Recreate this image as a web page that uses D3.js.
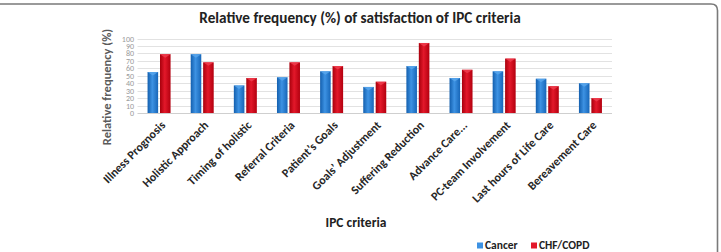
<!DOCTYPE html>
<html>
<head>
<meta charset="utf-8">
<script src="https://cdn.jsdelivr.net/npm/d3@7"></script>
<style>
  body { margin: 0; background: #fff; }
  svg { display: block; }
</style>
</head>
<body>
<script>
const categories = ['Illness Prognosis', 'Holistic Approach', 'Timing of holistic', 'Referral Criteria',
  'Patient\u2019s Goals', 'Goals\u2019 Adjustment', 'Suffering Reduction', 'Advance Care...',
  'PC-team Involvement', 'Last hours of Life Care', 'Bereavement Care']
const series = ['Cancer', 'CHF/COPD']
const cancer = [55, 79, 37, 48, 56, 35, 63, 47, 56, 46, 40]
const chfCopd = [79, 68, 47, 68, 63, 42, 94, 58, 73, 36, 20]
const yTicks = [0, 10, 20, 30, 40, 50, 60, 70, 80, 90, 100]

const width = 721
const height = 252
const plot = { left: 137.5, right: 612, top: 38.5, bottom: 113 }
const font = 'Carlito, Calibri, "Liberation Sans Narrow", "Open Sans", sans-serif'

const svg = d3.select('body').append('svg')
  .attr('width', width)
  .attr('height', height)

// gradients for the bevelled bars
const defs = svg.append('defs')
const colors = {
  'Cancer': ['#135fae', '#3d92e3', '#1766b8'],
  'CHF/COPD': ['#a8000c', '#e3182a', '#b3000f']
}
series.forEach((s, i) => {
  const g = defs.append('linearGradient')
    .attr('id', 'grad' + i)
    .attr('x1', 0).attr('x2', 1).attr('y1', 0).attr('y2', 0)
  g.append('stop').attr('offset', '0%').attr('stop-color', colors[s][0])
  g.append('stop').attr('offset', '45%').attr('stop-color', colors[s][1])
  g.append('stop').attr('offset', '100%').attr('stop-color', colors[s][2])
})

// frame
svg.append('path')
  .attr('d', `M0,4 H711 Q717.5,4 717.5,10.5 V252`)
  .attr('fill', 'none')
  .attr('stroke', '#7a7a7a')
  .attr('stroke-width', 1.6)

// title
svg.append('text')
  .attr('x', 360)
  .attr('y', 23)
  .attr('text-anchor', 'middle')
  .style('font-family', font)
  .style('font-weight', 'bold')
  .style('font-size', '15.2px')
  .attr('fill', '#222')
  .text('Relative frequency (%) of satisfaction of IPC criteria')

const x = d3.scaleBand()
  .domain(categories)
  .range([plot.left, plot.right])

const xSub = d3.scaleBand()
  .domain(series)
  .range([-11.5, 11.5])
  .paddingInner(0.15)

const y = d3.scaleLinear()
  .domain([0, 100])
  .range([plot.bottom, plot.top])

// grid
svg.append('g')
  .selectAll('line')
  .data(yTicks)
  .enter()
  .append('line')
  .attr('x1', plot.left)
  .attr('x2', plot.right)
  .attr('y1', d => Math.round(y(d)) + 0.5)
  .attr('y2', d => Math.round(y(d)) + 0.5)
  .attr('stroke', d => d === 0 ? '#cfcfcf' : '#e2e2e2')
  .attr('stroke-width', 1)

// y axis labels
const yAxis = d3.axisLeft(y)
  .tickValues(yTicks)
  .tickSize(0)
  .tickPadding(0)

const yg = svg.append('g')
  .attr('transform', `translate(134, 0)`)
  .call(yAxis)
yg.select('.domain').remove()
yg.selectAll('text')
  .style('font-family', font)
  .style('font-size', '8px')
  .attr('fill', '#9a9a9a')

// y axis title
svg.append('text')
  .attr('transform', `translate(111, 87) rotate(-90)`)
  .attr('text-anchor', 'middle')
  .style('font-family', font)
  .style('font-weight', 'bold')
  .style('font-size', '12.5px')
  .attr('fill', '#5a5a5a')
  .text('Relative frequency (%)')

// bars
const rows = categories.map((c, i) => ({ cat: c, values: [cancer[i], chfCopd[i]] }))

const groups = svg.append('g')
  .selectAll('g')
  .data(rows)
  .enter()
  .append('g')
  .attr('transform', d => `translate(${x(d.cat) + x.bandwidth() / 2}, 0)`)

groups.selectAll('rect')
  .data(d => d.values.map((v, i) => ({ s: series[i], i, v })))
  .enter()
  .append('rect')
  .attr('x', d => xSub(d.s))
  .attr('width', xSub.bandwidth())
  .attr('y', d => y(d.v))
  .attr('height', d => y(0) - y(d.v))
  .attr('fill', d => `url(#grad${d.i})`)

// little bevel on top of each bar
groups.selectAll('path')
  .data(d => d.values.map((v, i) => ({ s: series[i], i, v })))
  .enter()
  .append('path')
  .attr('d', d => {
    const x0 = xSub(d.s)
    const w = xSub.bandwidth()
    const t = y(d.v)
    return `M${x0},${t} H${x0 + w} L${x0 + w / 2},${t + 3.5} Z`
  })
  .attr('fill', d => d.i === 0 ? '#5aa8ee' : '#f04050')
  .attr('opacity', 0.8)

// x labels
svg.append('g')
  .selectAll('text')
  .data(categories)
  .enter()
  .append('text')
  .attr('transform', d => `translate(${x(d) + x.bandwidth() / 2 + 4}, 123) rotate(-45)`)
  .attr('text-anchor', 'end')
  .attr('dy', '0.35em')
  .style('font-family', font)
  .style('font-weight', 'bold')
  .style('font-size', '12px')
  .attr('fill', '#262626')
  .text(d => d)

// x axis title
svg.append('text')
  .attr('x', 356)
  .attr('y', 227)
  .attr('text-anchor', 'middle')
  .style('font-family', font)
  .style('font-weight', 'bold')
  .style('font-size', '13.5px')
  .attr('fill', '#222')
  .text('IPC criteria')

// legend
const legend = svg.append('g')
  .attr('transform', 'translate(477, 249)')

const legendX = [0, 54]
series.forEach((s, i) => {
  legend.append('rect')
    .attr('x', legendX[i])
    .attr('y', -6.5)
    .attr('width', 6)
    .attr('height', 6)
    .attr('fill', colors[s][1])
  legend.append('text')
    .attr('x', legendX[i] + 8)
    .attr('y', 0)
    .style('font-family', font)
    .style('font-weight', 'bold')
    .style('font-size', '11.5px')
    .attr('fill', '#222')
    .text(s)
})
</script>
</body>
</html>
